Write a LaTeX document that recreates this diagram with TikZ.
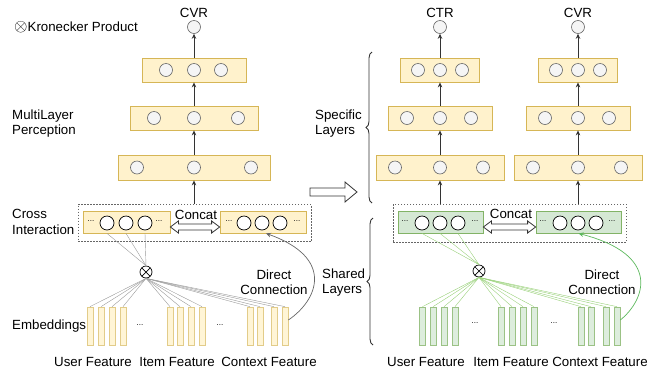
\documentclass[tikz,border=0pt]{standalone}
\usepackage{fontspec}
\setmainfont{Liberation Sans}
\usetikzlibrary{arrows.meta,calc,decorations.pathreplacing}
\definecolor{ylfill}{HTML}{FFF2CC}
\definecolor{ylline}{HTML}{D6B656}
\definecolor{grfill}{HTML}{D5E8D4}
\definecolor{grline}{HTML}{82B366}
\definecolor{unitfill}{HTML}{F5F5F5}
\definecolor{unitline}{HTML}{666666}
\definecolor{fangreen}{HTML}{97D077}
\definecolor{dcgreen}{HTML}{5CB85C}
\begin{document}
\begin{tikzpicture}[x=1pt,y=-1pt,
  lbl/.style={font=\fontsize{13.3}{15.5}\selectfont, inner sep=0pt},
  mlpbox/.style={draw=ylline, fill=ylfill, minimum height=24pt, inner sep=0pt, line width=0.8pt},
  gbox/.style={mlpbox, draw=grline, fill=grfill},
  unit/.style={circle, draw=unitline, fill=unitfill, minimum size=13pt, inner sep=0pt, line width=0.6pt},
  inunit/.style={circle, draw=black, fill=white, minimum size=14pt, inner sep=0pt, line width=0.7pt},
  crossbox/.style={draw=black!60, dash pattern=on 1.5pt off 1.5pt, minimum width=233pt, minimum height=37pt, inner sep=0pt},
  emb/.style={draw=ylline!70, fill=ylfill!80, minimum width=6pt, minimum height=38pt, inner sep=0pt, line width=0.7pt},
  gemb/.style={emb, draw=grline!80, fill=grfill!80},
  kron/.style={circle, draw=black, minimum size=12pt, inner sep=0pt, line width=0.7pt,
    path picture={\draw[line width=0.7pt] (path picture bounding box.north west) -- (path picture bounding box.south east)
      (path picture bounding box.north east) -- (path picture bounding box.south west);}},
  uparrow/.style={draw=black!80, line width=0.8pt, -{Stealth[length=5pt,width=4.5pt]}},
  fan/.style={draw=black!40, line width=0.4pt},
  gfan/.style={draw=fangreen, line width=0.4pt},
  hollow/.style={draw=black!80, fill=white, line width=0.8pt, line join=miter},
  ellip/.style={font=\fontsize{8}{8}\selectfont, inner sep=0pt},
  brc/.style={draw=black!80, line width=0.9pt, decorate, decoration={brace, amplitude=6pt}}
]
\useasboundingbox (0,0) rectangle (659,373);

% ---- single task model ----
\node[lbl] (cvrL) at (194,13) {CVR};
\node[unit] (outL) at (194,27) {};
\node[lbl, anchor=west] (kronText) at (14,27) {{\fontsize{17}{17}\selectfont$\otimes$}Kronecker Product};
\node[mlpbox, minimum width=104pt] (topL) at (194,70) {};
\node[mlpbox, minimum width=128pt] (midL) at (194,118) {};
\node[mlpbox, minimum width=152pt, minimum height=25pt] (botL) at (194,167.5) {};
\foreach \x [count=\i] in {166,194,221} \node[unit] (topL\i) at (\x,70) {};
\foreach \x [count=\i] in {154,194,238} \node[unit] (midL\i) at (\x,118) {};
\foreach \x [count=\i] in {137,194,251} \node[unit] (botL\i) at (\x,167.5) {};
\draw[uparrow] (topL.north) -- (outL.south);
\draw[uparrow] (midL.north) -- (topL.south);
\draw[uparrow] (botL.north) -- (midL.south);
\node[lbl, anchor=west, align=left] (mlpText) at (12,123.5) {MultiLayer\\Perception};

\node[crossbox] (crossL) at (194.5,223) {};
\draw[uparrow] (crossL.north -| botL.south) -- (botL.south);
\node[mlpbox, minimum width=87pt, minimum height=22pt] (inLL) at (126.5,222) {};
\node[mlpbox, minimum width=86pt, minimum height=22pt] (inLR) at (263,222) {};
\foreach \x [count=\i] in {107,126,145} \node[inunit] (inLL\i) at (\x,223) {};
\foreach \x [count=\i] in {244,262,280} \node[inunit] (inLR\i) at (\x,223) {};
\node[ellip] (dotLL1) at (91,221) {...};
\node[ellip] (dotLL2) at (159,221) {...};
\node[ellip] (dotLR1) at (229,221) {...};
\node[ellip] (dotLR2) at (297,221) {...};
\node[lbl, anchor=west, align=left] (crossText) at (12,222) {Cross\\Interaction};

\node[kron] (kronL) at (146,272) {};
\foreach \i in {1,2,3} \draw[fan] (inLL\i |- inLL.south) -- (kronL.north);
\foreach \x [count=\i] in {90,101,112,123,170,180,191,202,250,260,274,285} {
  \node[emb] (embL\i) at (\x,326) {};
  \draw[fan] (kronL.south) -- (embL\i.north);
}
\node[ellip] (dotEL1) at (140,325) {...};
\node[ellip] (dotEL2) at (220,325) {...};
\node[lbl, anchor=west] (embText) at (12,326) {Embeddings};
\node[lbl] (userL) at (93,362) {User Feature};
\node[lbl] (itemL) at (177,362) {Item Feature};
\node[lbl] (ctxL) at (269,362) {Context Feature};
\draw[draw=black!60, line width=0.7pt, -{Stealth[length=5pt,width=4.5pt]}]
  ([yshift=6pt]embL12.east) .. controls (318,300) and (335,258) .. ([xshift=3pt]inLR.south);
\node[lbl, align=center] (dcL) at (274,282) {Direct\\Connection};

% ---- transition ----
\draw[hollow] (310,188) -- (345,188) -- (345,182) -- (357,192) -- (345,202) -- (345,196) -- (310,196) -- cycle;

% ---- multi task model ----
\node[lbl] (ctrR) at (440,13) {CTR};
\node[lbl] (cvrR) at (578,13) {CVR};
\node[unit] (outR1) at (440,27) {};
\node[unit] (outR2) at (578,27) {};
\node[mlpbox, minimum width=79pt] (topR1) at (440,70) {};
\node[mlpbox, minimum width=104pt] (midR1) at (440,118) {};
\node[mlpbox, minimum width=128pt, minimum height=25pt] (botR1) at (440,167.5) {};
\node[mlpbox, minimum width=79pt] (topR2) at (578,70) {};
\node[mlpbox, minimum width=104pt] (midR2) at (578,118) {};
\node[mlpbox, minimum width=128pt, minimum height=25pt] (botR2) at (578,167.5) {};
\foreach \c in {440,578} {
  \foreach \d [count=\i] in {-22,0,22} \node[unit] (topR\c\i) at (\c+\d,70) {};
  \foreach \d [count=\i] in {-33,0,31} \node[unit] (midR\c\i) at (\c+\d,118) {};
  \foreach \d [count=\i] in {-45,0,43} \node[unit] (botR\c\i) at (\c+\d,167.5) {};
}
\foreach \k in {1,2} {
  \draw[uparrow] (topR\k.north) -- (outR\k.south);
  \draw[uparrow] (midR\k.north) -- (topR\k.south);
  \draw[uparrow] (botR\k.north) -- (midR\k.south);
}

\node[crossbox, minimum height=38pt] (crossR) at (509.5,223) {};
\draw[uparrow] (crossR.north -| botR1.south) -- (botR1.south);
\draw[uparrow] (crossR.north -| botR2.south) -- (botR2.south);
\node[gbox, minimum width=85pt, minimum height=22pt] (inRL) at (440.5,222) {};
\node[gbox, minimum width=85pt, minimum height=22pt] (inRR) at (578.5,222) {};
\foreach \x [count=\i] in {422,440,458} \node[inunit] (inRL\i) at (\x,223) {};
\foreach \x [count=\i] in {560,578,596} \node[inunit] (inRR\i) at (\x,223) {};
\node[ellip] (dotRL1) at (405,221) {...};
\node[ellip] (dotRL2) at (475,221) {...};
\node[ellip] (dotRR1) at (543,221) {...};
\node[ellip] (dotRR2) at (612,221) {...};

% concat arrows
\foreach \a/\b in {inLL/inLR, inRL/inRR} {
  \coordinate (ca) at ($(\a.east)+(0,5)$);
  \coordinate (cb) at ($(\b.west)+(0,5)$);
  \draw[hollow] (ca) -- ++(8,-6) -- ++(0,3) -- ($(cb)+(-8,-3)$) -- ++(0,-3) -- (cb)
    -- ++(-8,6) -- ++(0,-3) -- ($(ca)+(8,3)$) -- ++(0,3) -- cycle;
}
\node[lbl] (concatL) at (196,215) {Concat};
\node[lbl] (concatR) at (511,214) {Concat};

\node[kron] (kronR) at (479,271) {};
\foreach \i in {1,2,3} \draw[gfan] (inRL\i |- inRL.south) -- (kronR.north);
\foreach \x [count=\i] in {422.5,433,444,455,501,512,523,534,581,591,606,617} {
  \node[gemb] (embR\i) at (\x,326) {};
  \draw[gfan] (kronR.south) -- (embR\i.north);
}
\node[ellip] (dotER1) at (475,323) {...};
\node[ellip] (dotER2) at (554,323) {...};
\node[lbl] (userR) at (426,362) {User Feature};
\node[lbl] (itemR) at (511,362) {Item Feature};
\node[lbl] (ctxR) at (600,362) {Context Feature};
\draw[draw=dcgreen, line width=0.7pt, -{Stealth[length=5pt,width=4.5pt]}]
  ([yshift=6pt]embR12.east) .. controls (645,300) and (662,255) .. (inRR.south);
\node[lbl, align=center] (dcR) at (602,282) {Direct\\Connection};

% braces
\draw[brc] (372,203) -- (372,52);
\node[lbl, anchor=west, align=left] (specText) at (315,123.5) {Specific\\Layers};
\draw[brc] (373,345) -- (373,218);
\node[lbl, anchor=west, align=left] (sharedText) at (322,282.5) {Shared\\Layers};
\end{tikzpicture}
\end{document}
